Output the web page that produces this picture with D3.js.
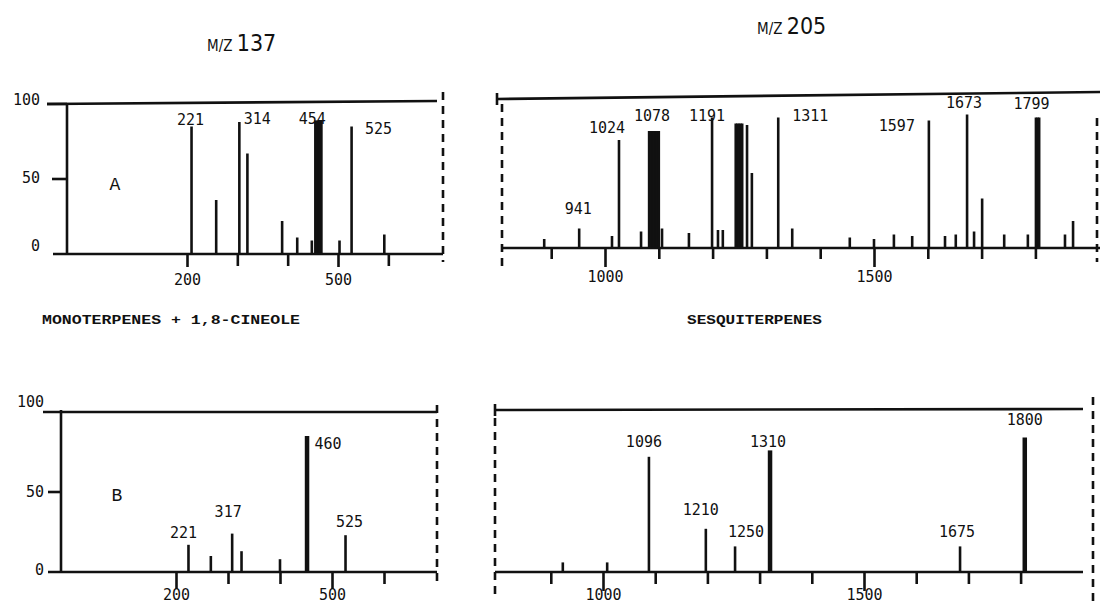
<!DOCTYPE html>
<html lang="en">
<head>
<meta charset="UTF-8">
<title>m/z 137 and m/z 205 mass chromatograms</title>
<script src="https://d3js.org/d3.v7.min.js"></script>
<style>
  body { margin: 0; background: #fff; }
  svg { display: block; }
  .num { font-family: "DejaVu Sans Mono", monospace; font-size: 15px; fill: #111; }
  .tw { font-family: "Liberation Mono", "Courier New", monospace; fill: #111; }
  .frame { stroke: #111; stroke-width: 2.6; fill: none; }
  .dash { stroke: #111; stroke-width: 2.6; stroke-dasharray: 8 6; fill: none; }
</style>
</head>
<body>
<svg id="chart" width="1100" height="605"></svg>
<script>
// ---- data ----
// A, m/z 137 (monoterpenes): peak positions on the x axis and relative heights (%)
const a137Pos = [209, 258, 304, 320, 389, 419, 448, 455, 458, 461, 464, 467, 503, 527, 592];
const a137Pct = [85, 36, 88, 67, 22, 11, 9, 89, 89, 89, 89, 89, 9, 85, 13];
const a137Labels = [{ at: 209, text: "221" }, { at: 304, text: "314" }, { at: 461, text: "454" }, { at: 527, text: "525" }];

// A, m/z 205 (sesquiterpenes)
const a205Pos = [887, 952, 1013, 1026, 1067, 1082, 1085, 1088, 1091, 1094, 1097, 1100, 1106, 1156, 1199, 1210, 1219,
  1243, 1246, 1249, 1252, 1255, 1264, 1273, 1322, 1348, 1455, 1500, 1537, 1571, 1602, 1632, 1652, 1673, 1686, 1701,
  1742, 1786, 1801, 1804, 1807, 1855, 1870];
const a205Pct = [6, 13, 8, 72, 11, 78, 78, 78, 78, 78, 78, 78, 13, 10, 87, 12, 12,
  83, 83, 83, 83, 83, 82, 50, 87, 13, 7, 6, 9, 8, 85, 8, 9, 89, 11, 33,
  9, 9, 87, 87, 87, 9, 18];
const a205Labels = [{ at: 952, text: "941" }, { at: 1026, text: "1024" }, { at: 1091, text: "1078" }, { at: 1199, text: "1191" },
  { at: 1322, text: "1311" }, { at: 1602, text: "1597" }, { at: 1673, text: "1673" }, { at: 1804, text: "1799" }];

// B, m/z 137
const b137Pos = [224, 267, 308, 326, 400, 452, 526];
const b137Pct = [17, 10, 24, 13, 8, 85, 23];
const b137Labels = [{ at: 224, text: "221" }, { at: 308, text: "317" }, { at: 452, text: "460" }, { at: 526, text: "525" }];

// B, m/z 205
const b205Pos = [923, 1008, 1088, 1197, 1253, 1320, 1684, 1808];
const b205Pct = [6, 6, 72, 27, 16, 76, 16, 84];
const b205Labels = [{ at: 1088, text: "1096" }, { at: 1197, text: "1210" }, { at: 1253, text: "1250" },
  { at: 1320, text: "1310" }, { at: 1684, text: "1675" }, { at: 1808, text: "1800" }];

// axis ticks
const monoTicks = [200, 300, 400, 500, 600];
const monoTickText = [200, 500];
const sesqTicks = [900, 1000, 1100, 1200, 1300, 1400, 1500, 1600, 1700, 1800];
const sesqTickText = [1000, 1500];
const yTicks = [0, 50, 100];

// ---- layout ----
// label offsets from the peak top [dx, dy] so they sit where the original typed them
const nudge = {
  a137: { "221": [-1, 1], "314": [18, 5], "454": [-6, 6], "525": [27, 10] },
  a205: { "941": [-1, -12], "1024": [-12, -4], "1078": [-2, -7], "1191": [-5, 6], "1311": [32, 6], "1597": [-32, 13], "1673": [-3, -4], "1799": [-6, -6] },
  b137: { "221": [-5, -4], "317": [-4, -14], "460": [21, 16], "525": [4, -5] },
  b205: { "1096": [-5, -7], "1210": [-5, -11], "1250": [11, -6], "1310": [-2, 0], "1675": [-3, -6], "1800": [0, -10] }
};

const panels = [
  { key: "a137", pos: a137Pos, pct: a137Pct, labels: a137Labels, ticks: monoTicks, tickText: monoTickText,
    ref: [200, 500], refPx: [187, 338], left: 53, right: 443, base: 254, top: 104, tick: 12, tickLong: 13, labelGap: 31, thick: false },
  { key: "a205", pos: a205Pos, pct: a205Pct, labels: a205Labels, ticks: sesqTicks, tickText: sesqTickText,
    ref: [1000, 1500], refPx: [605, 874], left: 502, right: 1100, base: 248, top: 98, tick: 11, tickLong: 19, labelGap: 34, thick: false },
  { key: "b137", pos: b137Pos, pct: b137Pct, labels: b137Labels, ticks: monoTicks, tickText: monoTickText,
    ref: [200, 500], refPx: [176, 332], left: 48, right: 437, base: 572, top: 412, tick: 12, tickLong: 17, labelGap: 28, thick: true },
  { key: "b205", pos: b205Pos, pct: b205Pct, labels: b205Labels, ticks: sesqTicks, tickText: sesqTickText,
    ref: [1000, 1500], refPx: [603, 864], left: 495, right: 1083, base: 572, top: 412, tick: 12, tickLong: 19, labelGap: 28, thick: true }
];

const svg = d3.select("#chart");

function drawPanel(p) {
  const x = d3.scaleLinear().domain(p.ref).range(p.refPx);
  x.domain([x.invert(p.left), x.invert(p.right)]).range([p.left, p.right]);
  const y = d3.scaleLinear().domain([0, 100]).range([p.base, p.top]);
  const g = svg.append("g").attr("class", "panel-" + p.key);

  // x axis: ticks only, baseline drawn as its own line
  const ax = g.append("g")
    .attr("transform", `translate(0,${p.base})`)
    .call(d3.axisBottom(x).tickValues(p.ticks).tickSize(p.tick).tickSizeOuter(0)
      .tickFormat(d => p.tickText.includes(d) ? d : ""));
  ax.select(".domain").remove();
  ax.selectAll(".tick line").attr("stroke", "#111").attr("stroke-width", 2.6)
    .attr("y2", d => p.tickText.includes(d) ? p.tickLong : p.tick);
  ax.selectAll(".tick text").attr("class", "num").attr("y", p.labelGap).attr("dy", null);

  g.append("line").attr("class", "frame")
    .attr("x1", p.left).attr("x2", p.right).attr("y1", y(0)).attr("y2", y(0));

  // peaks
  const peaks = p.pos.map((v, i) => ({ v, pct: p.pct[i] }));
  g.selectAll(".peak").data(peaks).join("line")
    .attr("class", "peak")
    .attr("x1", d => x(d.v)).attr("x2", d => x(d.v))
    .attr("y1", y(0) + 1).attr("y2", d => y(d.pct))
    .attr("stroke", "#111")
    .attr("stroke-width", d => p.thick && d.pct > 75 ? 4.5 : 2.6);

  // peak labels
  g.selectAll(".plab").data(p.labels).join("text")
    .attr("class", "num plab")
    .attr("text-anchor", "middle")
    .attr("x", d => x(d.at) + nudge[p.key][d.text][0])
    .attr("y", d => y(p.pct[p.pos.indexOf(d.at)]) - 3 + nudge[p.key][d.text][1])
    .text(d => d.text);

  return { x, y, g };
}

const pa = drawPanel(panels[0]);
const pra = drawPanel(panels[1]);
const pb = drawPanel(panels[2]);
const prb = drawPanel(panels[3]);

function frameLine(x1, y1, x2, y2, cls, w) {
  svg.append("line").attr("class", cls || "frame")
    .attr("x1", x1).attr("y1", y1).attr("x2", x2).attr("y2", y2)
    .attr("stroke-width", w || null);
}

// left panel A frame with y axis
frameLine(67, pa.y(100) - 1, 67, pa.y(0) + 1);
frameLine(47, pa.y(100), 437, pa.y(100) - 3);
frameLine(47, pa.y(100), 67, pa.y(100), "frame", 4);
frameLine(52, pa.y(50), 67, pa.y(50));
frameLine(443, 92, 443, 262, "dash");
pa.g.selectAll(".ylab").data(yTicks).join("text")
  .attr("class", "num").attr("text-anchor", "end")
  .attr("x", 40).attr("y", d => pa.y(d) + (d === 100 ? 1 : d === 50 ? 4 : -3))
  .text(d => d);

// left panel B frame with y axis
frameLine(61, pb.y(100) - 2, 61, pb.y(0) + 1);
frameLine(43, pb.y(100), 437, pb.y(100));
frameLine(48, pb.y(50), 61, pb.y(50));
frameLine(437, 405, 437, 584, "dash");
pb.g.selectAll(".ylab").data(yTicks).join("text")
  .attr("class", "num").attr("text-anchor", "end")
  .attr("x", 44).attr("y", d => pb.y(d) + (d === 100 ? -5 : d === 50 ? 5 : 3))
  .text(d => d);

// right panel A frame
frameLine(497, pra.y(100) + 1, 1100, pra.y(100) - 6);
frameLine(497, 93, 497, 105);
frameLine(502, 104, 502, 272, "dash");
frameLine(1097, 118, 1097, 262, "dash");

// right panel B frame
frameLine(495, prb.y(100) - 2, 1083, prb.y(100) - 3);
frameLine(495, 404, 495, 416);
frameLine(495, 418, 495, 600, "dash");
frameLine(1093, 397, 1093, 605, "dash");

// panel letters
svg.append("text").attr("class", "tw").attr("x", 115).attr("y", 190)
  .attr("text-anchor", "middle").style("font-size", "18px").text("A");
svg.append("text").attr("class", "tw").attr("x", 117).attr("y", 501)
  .attr("text-anchor", "middle").style("font-size", "18px").text("B");

// titles
function title(x, yb, num) {
  const t = svg.append("text").attr("x", x).attr("y", yb)
    .style("font-family", "'DejaVu Sans Condensed', 'Liberation Sans Narrow', sans-serif")
    .attr("fill", "#111");
  t.append("tspan").style("font-size", "15px").text("M/Z ");
  t.append("tspan").style("font-size", "23px").text(num);
}
title(207, 51, "137");
title(757, 34, "205");

// compound class captions
svg.append("text").attr("class", "tw").attr("x", 42).attr("y", 324)
  .attr("textLength", 258).attr("lengthAdjust", "spacingAndGlyphs")
  .style("font-size", "13px").style("font-weight", "bold")
  .text("MONOTERPENES + 1,8-CINEOLE");
svg.append("text").attr("class", "tw").attr("x", 687).attr("y", 324)
  .attr("textLength", 135).attr("lengthAdjust", "spacingAndGlyphs")
  .style("font-size", "13px").style("font-weight", "bold")
  .text("SESQUITERPENES");
</script>
</body>
</html>
